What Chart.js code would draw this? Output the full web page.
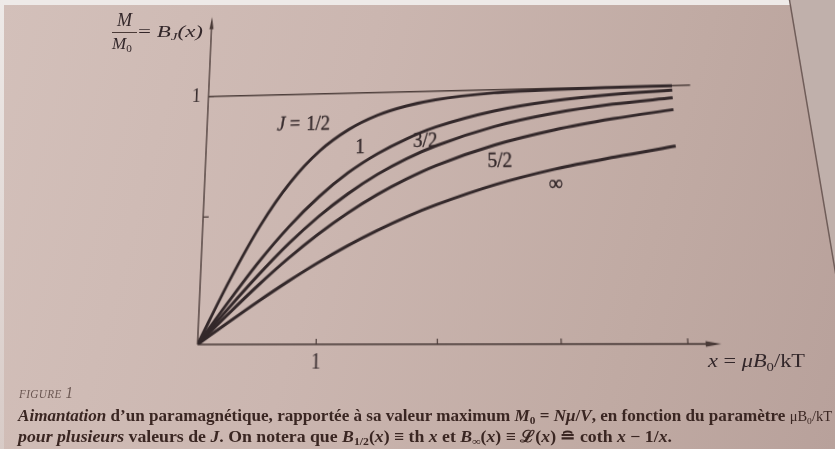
<!DOCTYPE html>
<html lang="fr">
<head>
<meta charset="utf-8">
<title>Aimantation d'un paramagnétique</title>
<script src="https://cdn.jsdelivr.net/npm/chart.js@4.4.1/dist/chart.umd.min.js"></script>
<style>
  html, body { margin: 0; padding: 0; }
  body {
    width: 835px; height: 449px; overflow: hidden; position: relative;
    background: linear-gradient(105deg, #d3c0ba 0%, #cbb6b0 40%, #c0aaa3 75%, #b8a19b 100%);
    font-family: "Liberation Serif", "DejaVu Serif", serif;
    color: #3e2b27;
  }
  .edge-top { position: absolute; left: 0; top: 0; width: 835px; height: 5px; background: #eeeae8; }
  .edge-left { position: absolute; left: 0; top: 0; width: 4px; height: 449px; background: linear-gradient(#eeeae8, #d8cbc7); }
  #fold { position: absolute; left: 0; top: 0; }
  #chart { position: absolute; left: 0; top: 0; transform-origin: 0 0; }
  .txt { position: absolute; white-space: nowrap; transform-origin: 0 50%; line-height: 1; }
  .sub { font-size: 0.66em; position: relative; top: 0.3em; }
  .it { font-style: italic; }
  .up { font-style: normal; }
  .caption { font-weight: bold; font-size: 16.5px; color: #3a2622; }
  .axis-title { color: #33272a; }
</style>
</head>
<body>
<div class="edge-top"></div>
<div class="edge-left"></div>
<svg id="fold" width="835" height="449">
  <polygon points="790,0 835,0 835,270" fill="#c0b0ab"/>
  <line x1="789.5" y1="0" x2="836" y2="276" stroke="#705d59" stroke-width="1.5"/>
</svg>

<canvas id="chart" width="835" height="449"></canvas>

<!-- vertical axis title: M / M0 = B_J(x) -->
<div class="txt axis-title it" style="left:117px; top:11px; font-size:18px;">M</div>
<div style="position:absolute; left:112px; top:31.5px; width:25px; height:1.3px; background:#4a3a37;"></div>
<div class="txt axis-title it" style="left:112px; top:34.5px; font-size:17px;">M<span class="sub up">0</span></div>
<div class="txt axis-title" data-w="65" style="left:138px; top:24px; font-size:16.5px;">= <span class="it">B<span class="sub">J</span>(x)</span></div>

<!-- horizontal axis title -->
<div class="txt axis-title" data-w="97" style="left:708px; top:352px; font-size:18px;"><span class="it">x</span> = <span class="it">μB</span><span class="sub">0</span>/kT</div>

<!-- caption -->
<div class="txt" data-w="54" style="left:19px; top:385px; color:#6a5651; font-style:italic;"><span style="font-size:12px; letter-spacing:0.4px;">FIGURE</span> <span style="font-size:16px;">1</span></div>
<div class="txt caption" data-w="814" style="left:18px; top:408.2px;"><span class="it">Aimantation</span> d’un paramagnétique, rapportée à sa valeur maximum <span class="it">M</span><span class="sub">0</span> = <span class="it">Nμ</span>/<span class="it">V</span>, en fonction du paramètre <span style="font-weight:normal; font-size:14px;">μB<span class="sub">0</span>/kT</span></div>
<div class="txt caption" data-w="654" style="left:18px; top:428.5px;"><span class="it">pour plusieurs</span> valeurs de <span class="it">J</span>. On notera que <span class="it">B</span><span class="sub">1/2</span>(<span class="it">x</span>) ≡ th <span class="it">x</span> et <span class="it">B</span><span class="sub">∞</span>(<span class="it">x</span>) ≡ ℒ(<span class="it">x</span>) ≘ coth <span class="it">x</span> − 1/<span class="it">x</span>.</div>

<script>
// Reduced field x = μB0/kT
const xValues = [0, 0.25, 0.5, 0.75, 1, 1.25, 1.5, 1.75, 2, 2.5, 3, 3.5, 4];

// Reduced magnetisation M/M0 = B_J(x) for each J
const bHalf        = [0, 0.245, 0.462, 0.635, 0.762, 0.848, 0.905, 0.941, 0.964, 0.987, 0.995, 0.998, 0.999];
const bOne         = [0, 0.164, 0.320, 0.458, 0.575, 0.671, 0.746, 0.805, 0.851, 0.912, 0.948, 0.969, 0.981];
const bThreeHalves = [0, 0.138, 0.269, 0.390, 0.496, 0.586, 0.662, 0.724, 0.774, 0.848, 0.897, 0.929, 0.950];
const bFiveHalves  = [0, 0.116, 0.228, 0.332, 0.426, 0.509, 0.581, 0.642, 0.694, 0.773, 0.829, 0.870, 0.902];
const bInfinity    = [0, 0.083, 0.164, 0.241, 0.313, 0.379, 0.438, 0.491, 0.537, 0.614, 0.672, 0.716, 0.755];

// Saturation level M = M0
const saturationX = [0, 4.15];
const saturationY = [1, 1];

// Axis ticks
const xTickValues = [1, 2, 3, 4];
const xTickLabels = ['1', '', '', ''];
const yTickValues = [0.5, 1];
const yTickLabels = ['', '1'];

// Curve names
const curveNames = ['J = 1/2', '1', '3/2', '5/2', '∞'];

const ink = '#33282a';
const axisInk = '#4a3b38';
const serif = '"Liberation Serif", "DejaVu Serif", serif';

const pts = (xs, ys) => xs.map((x, i) => ({ x, y: ys[i] }));
const curve = (ys) => ({
  data: pts(xValues, ys),
  borderColor: ink, borderWidth: 3, pointRadius: 0,
  cubicInterpolationMode: 'monotone', fill: false
});

// Axes with arrow heads and small inner tick marks
const arrowAxes = {
  id: 'arrowAxes',
  beforeDatasetsDraw(chart) {
    const { ctx, chartArea: a, scales: { x, y } } = chart;
    const x0 = x.getPixelForValue(0), y0 = y.getPixelForValue(0);
    ctx.save();
    ctx.strokeStyle = axisInk;
    ctx.fillStyle = axisInk;
    ctx.lineWidth = 1.4;
    ctx.beginPath();
    ctx.moveTo(x0, y0); ctx.lineTo(a.right - 10, y0);
    ctx.moveTo(x0, y0); ctx.lineTo(x0, a.top + 10);
    ctx.stroke();
    ctx.beginPath();
    ctx.moveTo(a.right, y0); ctx.lineTo(a.right - 15, y0 - 2.6); ctx.lineTo(a.right - 15, y0 + 2.6);
    ctx.closePath(); ctx.fill();
    ctx.beginPath();
    ctx.moveTo(x0, a.top); ctx.lineTo(x0 - 2.3, a.top + 13); ctx.lineTo(x0 + 2.3, a.top + 13);
    ctx.closePath(); ctx.fill();
    ctx.lineWidth = 1.2;
    ctx.beginPath();
    xTickValues.forEach(v => { const p = x.getPixelForValue(v); ctx.moveTo(p, y0); ctx.lineTo(p, y0 - 5); });
    yTickValues.forEach(v => { const p = y.getPixelForValue(v); ctx.moveTo(x0, p); ctx.lineTo(x0 + 6, p); });
    ctx.stroke();
    ctx.restore();
  }
};

// Names written beside the curves, anchored in data units
const curveTags = {
  id: 'curveTags',
  afterDatasetsDraw(chart, args, opts) {
    const { ctx, scales: { x, y } } = chart;
    ctx.save();
    ctx.fillStyle = ink;
    ctx.strokeStyle = ink;
    ctx.lineWidth = 0.35;
    ctx.textBaseline = 'middle';
    ctx.textAlign = 'center';
    const put = (t, X, Y) => { ctx.fillText(t, X, Y); ctx.strokeText(t, X, Y); };
    opts.anchors.forEach((an, i) => {
      const px = x.getPixelForValue(an[0]), py = y.getPixelForValue(an[1]);
      const name = curveNames[i];
      if (name.startsWith('J')) {
        ctx.font = 'italic 20px ' + serif;
        put('J', px - 25, py);
        ctx.font = '20px ' + serif;
        put('=', px - 10, py);
        put(name.split('= ')[1], px + 15, py);
      } else {
        ctx.font = '20px ' + serif;
        put(name, px, py);
      }
    });
    ctx.restore();
  }
};

const chart = new Chart(document.getElementById('chart'), {
  type: 'line',
  data: {
    datasets: [
      curve(bHalf), curve(bOne), curve(bThreeHalves), curve(bFiveHalves), curve(bInfinity),
      { data: pts(saturationX, saturationY), borderColor: '#4d3e3b', borderWidth: 1.3, pointRadius: 0, fill: false }
    ]
  },
  options: {
    responsive: false,
    animation: false,
    layout: { padding: { left: 157, right: 113, top: 16, bottom: 74 } },
    plugins: {
      legend: { display: false },
      tooltip: { enabled: false },
      curveTags: { anchors: [[0.86, 0.87], [1.35, 0.772], [1.91, 0.791], [2.54, 0.704], [3.0, 0.612]] }
    },
    scales: {
      x: {
        type: 'linear', min: 0, max: 4.26,
        grid: { display: false, drawTicks: false }, border: { display: false },
        afterBuildTicks: s => { s.ticks = xTickValues.map(v => ({ value: v })); },
        afterFit: s => { s.height = 30; },
        ticks: {
          autoSkip: false, maxRotation: 0, padding: 5, color: ink,
          font: { family: serif, size: 20 },
          callback: (v, i) => xTickLabels[i] ?? ''
        }
      },
      y: {
        type: 'linear', min: 0, max: 1.345,
        grid: { display: false, drawTicks: false }, border: { display: false },
        afterBuildTicks: s => { s.ticks = yTickValues.map(v => ({ value: v })); },
        afterFit: s => { s.width = 40; },
        ticks: {
          autoSkip: false, padding: 8.5, color: ink,
          font: { family: serif, size: 20 },
          callback: (v, i) => yTickLabels[i] ?? ''
        }
      }
    }
  },
  plugins: [arrowAxes, curveTags]
});

// Slight perspective of the printed page: a projective map sending four
// reference points of the plot to where they lie on the sheet.
function homography(src, dst) {
  const A = [], b = [];
  for (let i = 0; i < 4; i++) {
    const [u, v] = src[i], [X, Y] = dst[i];
    A.push([u, v, 1, 0, 0, 0, -u * X, -v * X]); b.push(X);
    A.push([0, 0, 0, u, v, 1, -u * Y, -v * Y]); b.push(Y);
  }
  const n = 8;
  for (let c = 0; c < n; c++) {
    let p = c;
    for (let r = c + 1; r < n; r++) if (Math.abs(A[r][c]) > Math.abs(A[p][c])) p = r;
    [A[c], A[p]] = [A[p], A[c]]; [b[c], b[p]] = [b[p], b[c]];
    for (let r = 0; r < n; r++) {
      if (r === c) continue;
      const f = A[r][c] / A[c][c];
      for (let k = c; k < n; k++) A[r][k] -= f * A[c][k];
      b[r] -= f * b[c];
    }
  }
  return b.map((v, i) => v / A[i][i]);
}

const sx = chart.scales.x, sy = chart.scales.y;
const px = (vx, vy) => [sx.getPixelForValue(vx), sy.getPixelForValue(vy)];
const h = homography(
  [px(0, 0), px(4, 0), px(0, 1), px(4, 1)],
  [[197.5, 344.5], [688, 344], [208.5, 96.5], [672, 85.5]]
);
document.getElementById('chart').style.transform =
  `matrix3d(${h[0]},${h[3]},0,${h[6]},${h[1]},${h[4]},0,${h[7]},0,0,1,0,${h[2]},${h[5]},0,1)`;

// Set each text line to its typeset width
document.querySelectorAll('.txt[data-w]').forEach(el => {
  const w = el.getBoundingClientRect().width;
  el.style.transform = `scaleX(${(+el.dataset.w / w).toFixed(4)})`;
});
</script>
</body>
</html>
